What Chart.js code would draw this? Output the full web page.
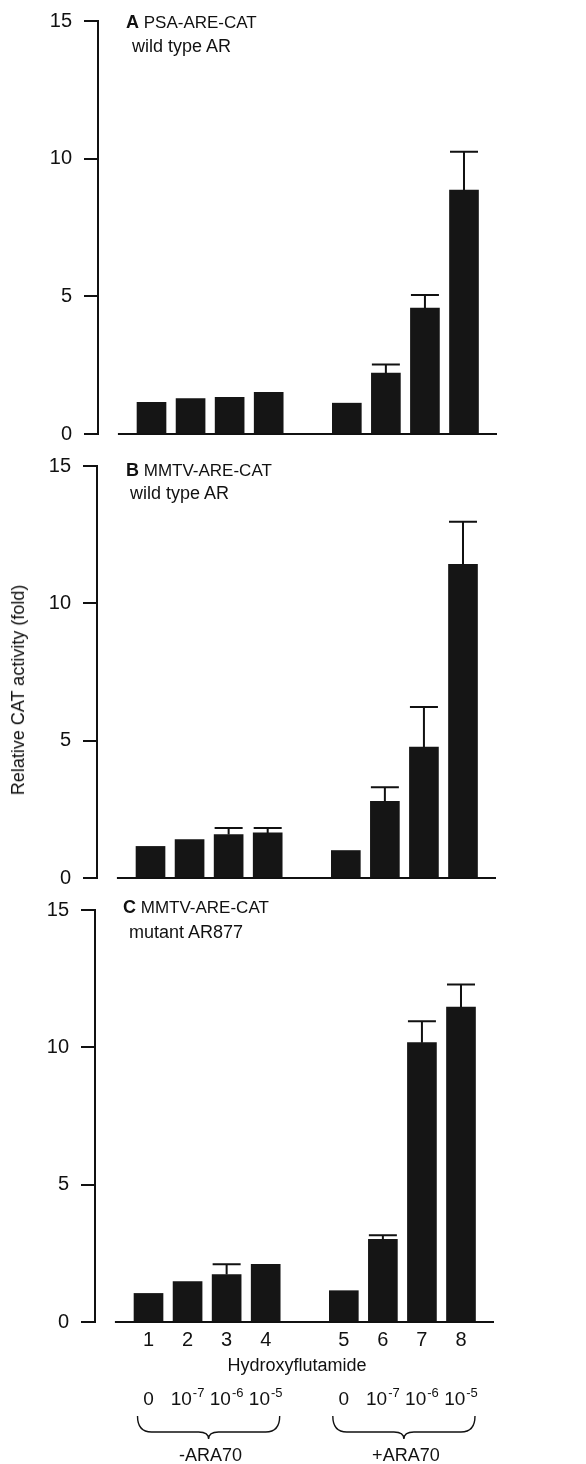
<!DOCTYPE html>
<html><head><meta charset="utf-8">
<script src="https://cdn.jsdelivr.net/npm/chart.js@4/dist/chart.umd.min.js"></script>
<style>
html,body{margin:0;padding:0;background:#fff;}
body{width:586px;height:1464px;position:relative;overflow:hidden;font-family:"Liberation Sans",Arial,sans-serif;color:#111;}
.wrap{position:absolute;}
.t{position:absolute;white-space:nowrap;line-height:1;color:#111;}
.c{transform:translateX(-50%);}
sup{font-size:13px;vertical-align:0;position:relative;top:-8px;margin-left:1px;}
</style></head><body>
<div class="wrap" id="wA" style="left:0;top:-3px"><canvas id="cA" width="586" height="461"></canvas></div>
<div class="wrap" id="wB" style="left:-1px;top:442px"><canvas id="cB" width="586" height="460"></canvas></div>
<div class="wrap" id="wC" style="left:-3px;top:886px"><canvas id="cC" width="586" height="476"></canvas></div>

<div class="t" style="left:126px;top:13px;font-size:17px"><b style="font-size:18px">A</b> PSA-ARE-CAT</div>
<div class="t" style="left:132px;top:37px;font-size:18px">wild type AR</div>
<div class="t" style="left:126px;top:461px;font-size:17px"><b style="font-size:18px">B</b> MMTV-ARE-CAT</div>
<div class="t" style="left:130px;top:484px;font-size:18px">wild type AR</div>
<div class="t" style="left:123px;top:898px;font-size:17px"><b style="font-size:18px">C</b> MMTV-ARE-CAT</div>
<div class="t" style="left:129px;top:923px;font-size:18px">mutant AR877</div>

<div class="t" style="left:18px;top:690px;font-size:18px;transform:translate(-50%,-50%) rotate(-90deg)">Relative CAT activity (fold)</div>
<div class="t c" style="left:297px;top:1356px;font-size:18px">Hydroxyflutamide</div>
<div id="overlay"></div>

<script>
// ---- data ----
const positions   = [1, 2, 3, 4, 6, 7, 8, 9];           // slot 5 left empty as gap
const laneLabels  = ['1','2','3','4','5','6','7','8'];
const concBase    = ['0','10','10','10','0','10','10','10'];
const concExp     = [null,'-7','-6','-5',null,'-7','-6','-5'];
const groupLabels = ['-ARA70', '+ARA70'];
const yTicks      = [0, 5, 10, 15];

const valuesA = [1.15, 1.29, 1.33, 1.51, 1.12, 2.21, 4.57, 8.86];
const errTopA = [null, null, null, null, null, 2.52, 5.05, 10.25];
const valuesB = [1.15, 1.40, 1.58, 1.64, 1.00, 2.79, 4.77, 11.42];
const errTopB = [null, null, 1.82, 1.82, null, 3.30, 6.23, 12.97];
const valuesC = [1.04, 1.47, 1.73, 2.10, 1.14, 3.01, 10.17, 11.47];
const errTopC = [null, null, 2.10, null, null, 3.16, 10.95, 12.29];

// ---- style ----
const FAMILY = '"Liberation Sans", Arial, sans-serif';
const INK = '#111';
const BAR = '#151515';

const errPlugin = {
  id: 'errBars',
  afterDatasetsDraw(chart, args, opts) {
    const errs = opts.errs || [];
    const meta = chart.getDatasetMeta(0);
    const y = chart.scales.y;
    const ctx = chart.ctx;
    ctx.save();
    ctx.strokeStyle = INK; ctx.lineWidth = 2;
    meta.data.forEach((bar, i) => {
      if (errs[i] == null) return;
      const yt = y.getPixelForValue(errs[i]);
      const half = 14;
      ctx.beginPath();
      ctx.moveTo(bar.x, bar.y); ctx.lineTo(bar.x, yt);
      ctx.moveTo(bar.x - half, yt); ctx.lineTo(bar.x + half, yt);
      ctx.stroke();
    });
    ctx.restore();
  }
};
const basePlugin = {
  id: 'baseLine',
  beforeDatasetsDraw(chart) {
    const x = chart.scales.x, y = chart.scales.y, ctx = chart.ctx;
    const y0 = y.getPixelForValue(0);
    ctx.save();
    ctx.strokeStyle = INK; ctx.lineWidth = 2;
    ctx.beginPath();
    ctx.moveTo(x.getPixelForValue(0.14), y0);
    ctx.lineTo(chart.chartArea.right, y0);
    ctx.stroke();
    ctx.restore();
  }
};

function makePanel(id, values, errs, showX, padBottom) {
  return new Chart(document.getElementById(id), {
    type: 'bar',
    data: { datasets: [{
      data: positions.map((x, i) => ({ x, y: values[i] })),
      backgroundColor: BAR, borderWidth: 0, barThickness: 29
    }]},
    options: {
      responsive: false, animation: false, events: [],
      layout: { padding: { top: 20, bottom: padBottom, left: 0, right: 89 } },
      plugins: { legend: { display: false }, tooltip: { enabled: false }, errBars: { errs } },
      scales: {
        x: {
          type: 'linear', min: -0.37, max: 9.845, display: showX, offset: false,
          grid: { display: false, drawTicks: false, offset: false }, border: { display: false },
          afterBuildTicks: s => { s.ticks = positions.map(v => ({ value: v })); },
          ticks: { callback: (v, i) => laneLabels[i], font: { size: 20, family: FAMILY }, color: INK,
                   padding: 6, maxRotation: 0, autoSkip: false },
          afterFit: s => { s.height = showX ? 40 : 0; }
        },
        y: {
          min: 0, max: 15,
          afterBuildTicks: s => { s.ticks = yTicks.map(v => ({ value: v })); },
          grid: { drawOnChartArea: false, drawTicks: true, tickLength: 14, color: INK, lineWidth: 2 },
          border: { display: true, color: INK, width: 2 },
          ticks: { font: { size: 20, family: FAMILY }, color: INK, padding: 12 },
          afterFit: s => { s.width = 98; }
        }
      }
    },
    plugins: [errPlugin, basePlugin]
  });
}

makePanel('cA', valuesA, errTopA, false, 14);
makePanel('cB', valuesB, errTopB, false, 14);
const chartC = makePanel('cC', valuesC, errTopC, true, 0);

// ---- overlay labels under panel C, positioned from the chart's own bars ----
const wC = document.getElementById('wC');
const offX = parseFloat(wC.style.left);
const bars = chartC.getDatasetMeta(0).data;
const ov = document.getElementById('overlay');
let html = '';
bars.forEach((b, i) => {
  const cx = b.x + offX;
  const txt = concBase[i] + (concExp[i] ? '<sup>' + concExp[i] + '</sup>' : '');
  html += `<div class="t c" style="left:${cx}px;top:1389px;font-size:19px">${txt}</div>`;
});
let svg = '<svg width="586" height="1464" style="position:absolute;left:0;top:0" xmlns="http://www.w3.org/2000/svg">';
[[0, 3], [4, 7]].forEach((g, gi) => {
  const x1 = bars[g[0]].x + offX - 11, x2 = bars[g[1]].x + offX + 14;
  const tip = (x1 + x2) / 2;
  const y0 = 1416, ym = 1432, yb = 1439;
  svg += `<path d="M${x1},${y0} Q${x1},${ym} ${x1+14},${ym} L${tip-10},${ym} Q${tip},${ym} ${tip},${yb} Q${tip},${ym} ${tip+10},${ym} L${x2-14},${ym} Q${x2},${ym} ${x2},${y0}" fill="none" stroke="${INK}" stroke-width="1.4"/>`;
  html += `<div class="t c" style="left:${tip + 2}px;top:1446px;font-size:18px">${groupLabels[gi]}</div>`;
});
svg += '</svg>';
ov.innerHTML = svg + html;
</script>
</body></html>
